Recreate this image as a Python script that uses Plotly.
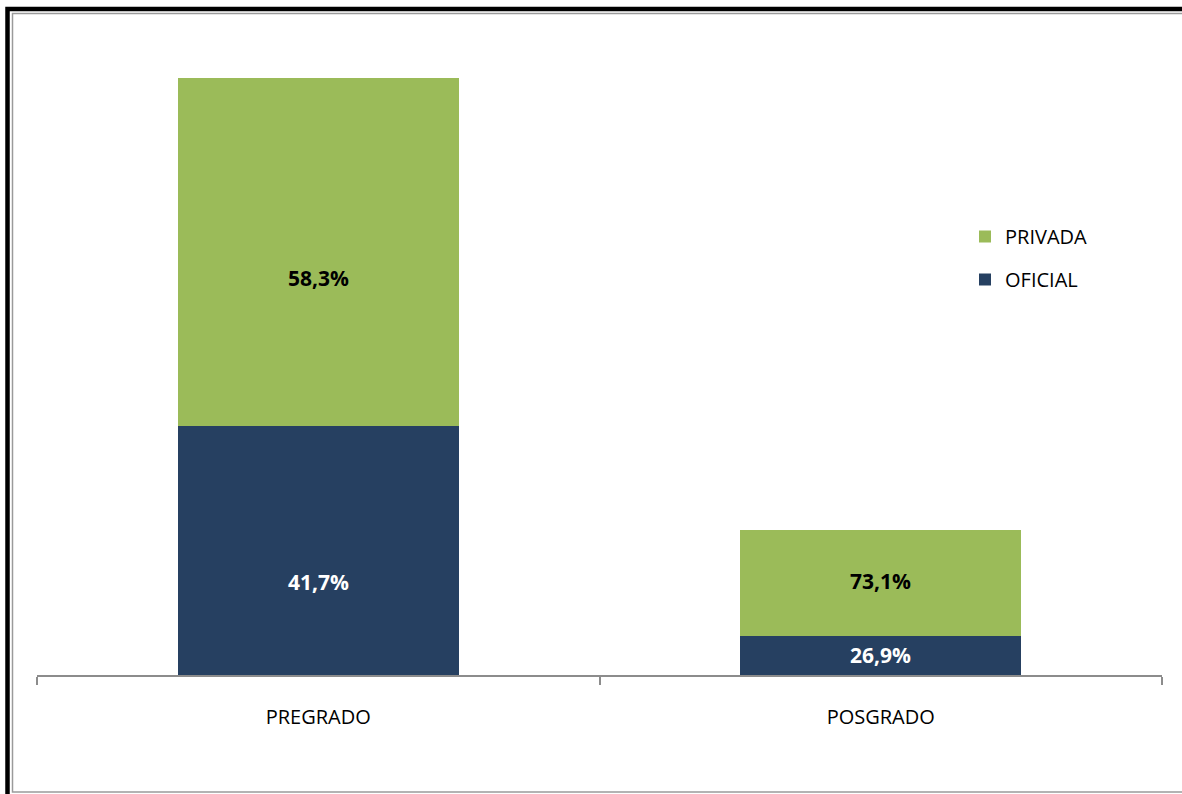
import plotly.graph_objects as go

categories = ["PREGRADO", "POSGRADO"]
# relative enrollment (PREGRADO total = 100)
oficial = [41.7, 6.5]
privada = [58.3, 17.8]
oficial_labels = ["41,7%", "26,9%"]
privada_labels = ["58,3%", "73,1%"]
# label vertical offsets (px) as placed in the original
oficial_shift = [-31, 1]
privada_shift = [-26, 2]

W, H = 1182, 794
L, R, T, B = 37, 1162, 20, 675
y_top = 100 * (B - T) / (675 - 78)

fig = go.Figure()
fig.add_trace(go.Bar(
    x=categories, y=oficial, name="OFICIAL", marker_color="#264061",
    legendgroup="a", legendrank=2, marker_line_width=0,
))
fig.add_trace(go.Bar(
    x=categories, y=privada, name="PRIVADA", marker_color="#9BBB59",
    legendgroup="b", legendrank=1, marker_line_width=0,
))

annotations = []
for i, c in enumerate(categories):
    annotations.append(dict(
        x=c, y=oficial[i] / 2, xref="x", yref="y", text=f"<b>{oficial_labels[i]}</b>",
        showarrow=False, yshift=oficial_shift[i],
        font=dict(color="white", size=21, family="Open Sans")))
    annotations.append(dict(
        x=c, y=oficial[i] + privada[i] / 2, xref="x", yref="y", text=f"<b>{privada_labels[i]}</b>",
        showarrow=False, yshift=privada_shift[i],
        font=dict(color="black", size=21, family="Open Sans")))

def px_x(p):
    return (p - L) / (R - L)

def px_y(p):
    return (B - p) / (B - T)

shapes = [
    dict(type="rect", xref="paper", yref="paper",
         x0=px_x(7.5), x1=px_x(1200), y0=px_y(9), y1=px_y(810),
         line=dict(color="black", width=4.5), fillcolor="rgba(0,0,0,0)", layer="above"),
    dict(type="rect", xref="paper", yref="paper",
         x0=px_x(12.5), x1=px_x(1195), y0=px_y(13.5), y1=px_y(792),
         line=dict(color="#9a9a9a", width=1.5), fillcolor="rgba(0,0,0,0)", layer="above"),
]

fig.update_layout(
    width=W, height=H,
    margin=dict(l=L, r=W - R, t=T, b=H - B, pad=0),
    barmode="stack", bargap=0.5,
    paper_bgcolor="white", plot_bgcolor="white",
    font=dict(family="Open Sans", size=20, color="black"),
    legend=dict(
        x=px_x(965), y=px_y(217), xanchor="left", yanchor="top",
        traceorder="grouped", tracegroupgap=14,
        font=dict(size=20, family="Open Sans"),
        bgcolor="rgba(0,0,0,0)", itemwidth=30,
    ),
    shapes=shapes,
    annotations=annotations,
)
fig.update_xaxes(
    type="category", range=[-0.5, 1.5],
    showline=True, linecolor="#8c8c8c", linewidth=2,
    ticks="outside", tickson="boundaries", ticklen=8, tickwidth=2, tickcolor="#8c8c8c",
    ticklabelstandoff=23, tickfont=dict(size=20, family="Open Sans"),
    showgrid=False, zeroline=False,
)
fig.update_yaxes(range=[0, y_top], visible=False, showgrid=False)

fig.write_html("out.html", config={"displayModeBar": False},
               post_script="document.body.style.margin='0';")
